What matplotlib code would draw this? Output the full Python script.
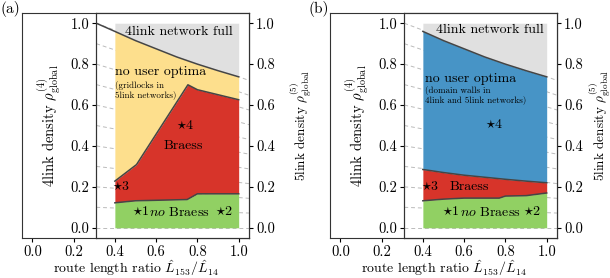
import numpy as np
import matplotlib
matplotlib.use("Agg")
import matplotlib.pyplot as plt

plt.rcParams["font.family"] = ["cmr10", "DejaVu Serif"]
plt.rcParams["mathtext.fontset"] = "cm"
plt.rcParams["axes.formatter.use_mathtext"] = True
plt.rcParams["font.size"] = 10.5

# ---- data ----
# upper border "4link network full" (same in both panels)
x_full = [0.31, 0.4, 0.5, 0.6, 0.7, 0.8, 0.9, 1.0]
y_full = [1.0, 0.96, 0.915, 0.875, 0.835, 0.80, 0.768, 0.738]

# panel (a): no Braess / Braess / no user optima borders
xa_green = [0.4, 0.5, 0.75, 0.8, 1.0]
ya_green = [0.122, 0.132, 0.138, 0.166, 0.166]
xa_red = [0.4, 0.505, 0.754, 0.8, 1.0]
ya_red = [0.228, 0.309, 0.699, 0.675, 0.626]

# panel (b)
xb_green = [0.4, 0.5, 0.6, 0.77, 0.8, 0.9, 1.0]
yb_green = [0.132, 0.14, 0.145, 0.145, 0.155, 0.157, 0.17]
xb_red = [0.4, 0.5, 0.6, 0.7, 0.8, 0.9, 1.0]
yb_red = [0.285, 0.27, 0.257, 0.247, 0.237, 0.228, 0.22]

# star markers (x, y, label)
stars_a = [(0.5, 0.08, "1"), (0.9, 0.08, "2"), (0.4, 0.2, "3"), (0.71, 0.5, "4")]
stars_b = [(0.51, 0.08, "1"), (0.9, 0.08, "2"), (0.405, 0.2, "3"), (0.715, 0.505, "4")]

# 4link -> 5link density scaling for the dashed guide lines
K5 = 0.72
guide_levels = np.arange(0.0, 1.01, 0.1)

TICKS = [0.0, 0.2, 0.4, 0.6, 0.8, 1.0]
TICK_LABELS = ["0.0", "0.2", "0.4", "0.6", "0.8", "1.0"]

GRAY = "#e0e0e0"
YELLOW = "#fddf8d"
RED = "#d7342a"
GREEN = "#91d063"
BLUE = "#4794c6"
EDGE = "#454545"

X_IN = 0.31   # left spine of the inner axes (data coords of outer axes)
XLIM = (-0.05, 1.05)
YLIM = (-0.05, 1.05)

fig = plt.figure(figsize=(6.1, 2.78), dpi=100)


def make_panel(left_px, label, middle_color, xg, yg, xr, yr, stars, texts, full_from_spine, rlab_x):
    W, H = 610.0, 278.0
    top_px, bot_px, width_px = 13, 238, 227
    outer = fig.add_axes([left_px / W, 1 - bot_px / H, width_px / W, (bot_px - top_px) / H])
    outer.set_xlim(*XLIM)
    outer.set_yticks([])
    outer.set_xticks(TICKS)
    outer.set_xticklabels(TICK_LABELS)
    outer.tick_params(axis="x", length=3, pad=2)
    outer.set_xlabel(r"route length ratio $\hat{L}_{153}/\hat{L}_{14}$", fontsize=10, labelpad=0)
    for s in outer.spines.values():
        s.set_color("#333333")

    frac = (X_IN - XLIM[0]) / (XLIM[1] - XLIM[0])
    inner = fig.add_axes([(left_px + frac * width_px) / W, 1 - bot_px / H,
                          (1 - frac) * width_px / W, (bot_px - top_px) / H])
    inner.set_xlim(X_IN, XLIM[1])
    inner.set_ylim(*YLIM)
    inner.set_xticks([])
    inner.set_yticks(TICKS)
    inner.set_yticklabels(TICK_LABELS)
    inner.tick_params(axis="y", length=3, pad=2)
    inner.set_ylabel(r"4link density $\rho^{(4)}_{\rm global}$", fontsize=10.5)
    inner.yaxis.set_label_coords(-0.215, 0.5)
    for s in inner.spines.values():
        s.set_color("#333333")

    # dashed guides 4link -> 5link density
    for v in guide_levels:
        inner.plot([X_IN, XLIM[1]], [v, v * K5], ls=(0, (4, 3)), color="#bbbbbb",
                   lw=0.7, zorder=1)

    xf = np.array(x_full)
    yf = np.array(y_full)
    m = xf >= 0.4
    inner.fill_between(xf[m], yf[m], 1.0, color=GRAY, lw=0, zorder=2)
    # middle region from red top up to full border
    xm = np.union1d(xf[m], np.array(xr))
    inner.fill_between(xm, np.interp(xm, xr, yr), np.interp(xm, xf, yf),
                       color=middle_color, lw=0, zorder=2)
    xrg = np.union1d(np.array(xr), np.array(xg))
    inner.fill_between(xrg, np.interp(xrg, xg, yg), np.interp(xrg, xr, yr),
                       color=RED, lw=0, zorder=2)
    inner.fill_between(xg, 0.0, yg, color=GREEN, lw=0, zorder=2)

    if full_from_spine:
        inner.plot(xf, yf, color=EDGE, lw=1.1, zorder=3)
    else:
        inner.plot(xf[m], yf[m], color=EDGE, lw=1.1, zorder=3)
    inner.plot(xr, yr, color=EDGE, lw=1.1, zorder=3)
    inner.plot(xg, yg, color=EDGE, lw=1.1, zorder=3)

    for sx, sy, s in stars:
        inner.text(sx - 0.016, sy, r"$\star$" + s, ha="left", va="center", fontsize=10, zorder=4)
    for tx, ty, t, fs in texts:
        inner.text(tx, ty, t, ha="left", va="center", fontsize=fs, zorder=4)

    right = inner.twinx()
    right.set_ylim(*YLIM)
    right.set_yticks(TICKS)
    right.set_yticklabels(TICK_LABELS)
    right.tick_params(axis="y", length=3, pad=2)
    right.set_ylabel(r"5link density $\rho^{(5)}_{\rm global}$", rotation=90, fontsize=9.5)
    right.yaxis.set_label_coords(rlab_x, 0.5)
    for s in right.spines.values():
        s.set_color("#333333")

    fig.text((left_px - 22) / W, 1 - 9 / H, label, ha="left", va="center", fontsize=11)


texts_a = [
    (0.447, 0.955, "4link network full", 10),
    (0.4, 0.76, "no user optima", 10),
    (0.4, 0.697, "(gridlocks in", 6.5),
    (0.4, 0.65, "5link networks)", 6.5),
    (0.635, 0.40, "Braess", 10),
    (0.565, 0.075, r"$\mathit{no}$ Braess", 10),
]
texts_b = [
    (0.464, 0.967, "4link network full", 10),
    (0.41, 0.73, "no user optima", 10),
    (0.41, 0.67, "(domain walls in", 6.5),
    (0.41, 0.626, "4link and 5link networks)", 6.5),
    (0.53, 0.2, "Braess", 10),
    (0.58, 0.075, r"$\mathit{no}$ Braess", 10),
]

make_panel(22, "(a)", YELLOW, xa_green, ya_green, xa_red, ya_red, stars_a, texts_a, True, 1.26)
make_panel(330, "(b)", BLUE, xb_green, yb_green, xb_red, yb_red, stars_b, texts_b, False, 1.2)

fig.savefig("out.png", dpi=100)
